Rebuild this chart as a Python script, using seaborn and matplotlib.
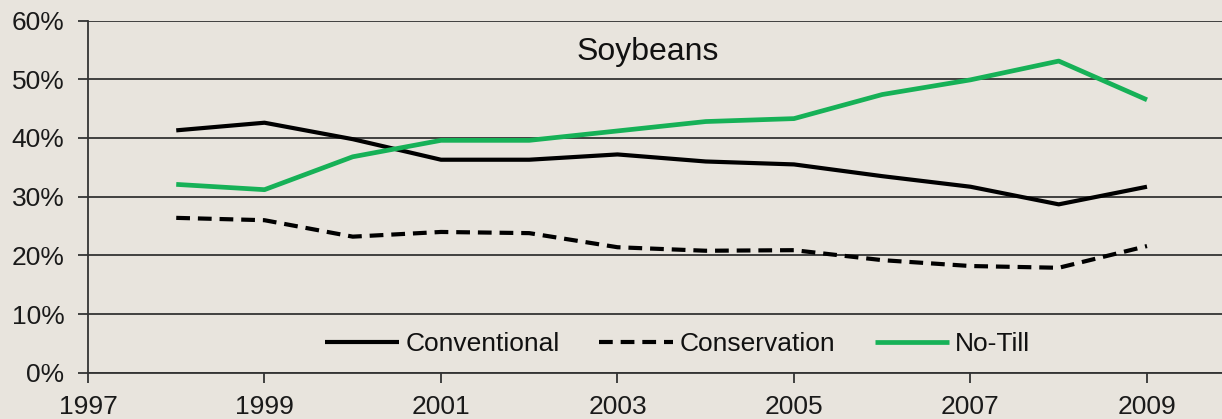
import matplotlib
matplotlib.use("Agg")
import matplotlib.pyplot as plt
import seaborn as sns
import pandas as pd
from matplotlib.ticker import FuncFormatter, MultipleLocator

# Share of soybean acreage by tillage system (percent)
years = [1998, 1999, 2000, 2001, 2002, 2003, 2004, 2005, 2006, 2007, 2008, 2009]
conventional = [41.3, 42.6, 39.8, 36.3, 36.3, 37.2, 36.0, 35.5, 33.5, 31.7, 28.7, 31.7]
conservation = [26.4, 26.0, 23.2, 24.0, 23.8, 21.4, 20.8, 20.9, 19.2, 18.2, 17.9, 21.6]
no_till = [32.1, 31.2, 36.8, 39.6, 39.6, 41.2, 42.8, 43.3, 47.4, 49.9, 53.1, 46.5]

series_names = ["Conventional", "Conservation", "No-Till"]

df = pd.DataFrame({
    "Year": years * 3,
    "Share": conventional + conservation + no_till,
    "System": [series_names[0]] * len(years) + [series_names[1]] * len(years)
              + [series_names[2]] * len(years),
})

bg = "#E8E4DD"
sns.set_theme(style="white")
plt.rcParams["font.family"] = ["Liberation Sans", "DejaVu Sans"]

fig = plt.figure(figsize=(12.22, 4.19), dpi=100, facecolor=bg)
ax = fig.add_axes([0.072, 0.110, 0.928, 0.841])
ax.set_facecolor(bg)

styles = {
    "Conventional": dict(color="black", linestyle="-", lw=3.0),
    "Conservation": dict(color="black", linestyle=(0, (3.3, 1.9)), lw=3.0),
    "No-Till": dict(color="#16B157", linestyle="-", lw=3.4),
}
for name in series_names:
    sub = df[df["System"] == name]
    sns.lineplot(data=sub, x="Year", y="Share", ax=ax, label=name,
                 solid_capstyle="butt", **styles[name])

ax.set_xlim(1997, 2009.85)
ax.set_ylim(0, 60)
ax.yaxis.set_major_locator(MultipleLocator(10))
ax.yaxis.set_major_formatter(FuncFormatter(lambda v, p: f"{v:.0f}%"))
ax.set_xticks([1997, 1999, 2001, 2003, 2005, 2007, 2009])
ax.set_xlabel("")
ax.set_ylabel("")

ax.grid(axis="y", color="#333333", lw=1.3)
ax.set_axisbelow(True)
for side in ["top", "right"]:
    ax.spines[side].set_visible(False)
for side in ["left", "bottom"]:
    ax.spines[side].set_color("#333333")
    ax.spines[side].set_linewidth(1.3)

ax.tick_params(axis="both", which="major", direction="out", length=7,
               width=1.3, color="#333333", labelsize=19, labelcolor="#1a1a1a",
               left=True, bottom=True)
ax.tick_params(axis="y", pad=10)
ax.tick_params(axis="x", pad=9)

ax.text(0.494, 0.91, "Soybeans", transform=ax.transAxes, ha="center",
        va="center", fontsize=23, color="#111111")

leg = ax.legend(loc="center", bbox_to_anchor=(0.520, 0.082), ncol=3,
                frameon=False, fontsize=19, handlelength=2.8,
                handletextpad=0.25, columnspacing=1.5)
for t in leg.get_texts():
    t.set_color("#111111")

fig.savefig("out.png", dpi=100, facecolor=bg)
